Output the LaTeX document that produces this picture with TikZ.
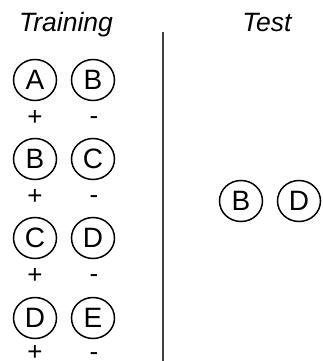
\documentclass[tikz,border=0pt]{standalone}
\usepackage{fontspec}
\setmainfont{Liberation Sans}
\usetikzlibrary{positioning, shapes.geometric}
\tikzset{
    item/.style={ellipse, draw=black, line width=1.5pt, inner sep=0pt, minimum width=43pt, minimum height=41pt, font=\fontsize{28}{28}\selectfont},
    sign/.style={anchor=base, inner sep=0pt, font=\fontsize{26}{26}\selectfont},
    title/.style={anchor=base, inner sep=0pt, font=\fontsize{26.5}{26.5}\selectfont\itshape},
    sep/.style={line width=1.4pt, draw=black!75}
}
\begin{document}
\begin{tikzpicture}[x=1pt, y=-1pt]
    \useasboundingbox (0,0) rectangle (323,361);

    % column titles
    \node[title] (train) at (66,32) {Training};
    \node[title] (test) at (267,32) {Test};

    % training pairs
    \node[item] (a1) at (35,80) {A};
    \node[item] (b1) at (93,80) {B};
    \node[item] (a2) at (35,159) {B};
    \node[item] (b2) at (93,159) {C};
    \node[item] (a3) at (35,238) {C};
    \node[item] (b3) at (93,238) {D};
    \node[item] (a4) at (35,318) {D};
    \node[item] (b4) at (93,318) {E};

    \node[sign] (p1) at (35,125) {+};
    \node[sign] (m1) at (94,124) {-};
    \node[sign] (p2) at (35,204) {+};
    \node[sign] (m2) at (94,203) {-};
    \node[sign] (p3) at (35,283) {+};
    \node[sign] (m3) at (94,282) {-};
    \node[sign] (p4) at (35,360) {+};
    \node[sign] (m4) at (94,360) {-};

    % test pair
    \node[item] (t1) at (241,201) {B};
    \node[item] (t2) at (299,201) {D};

    % separator
    \coordinate (septop) at (163,32);
    \coordinate (sepbot) at (163,361);
    \draw[sep] (septop) -- (sepbot);
\end{tikzpicture}
\end{document}
